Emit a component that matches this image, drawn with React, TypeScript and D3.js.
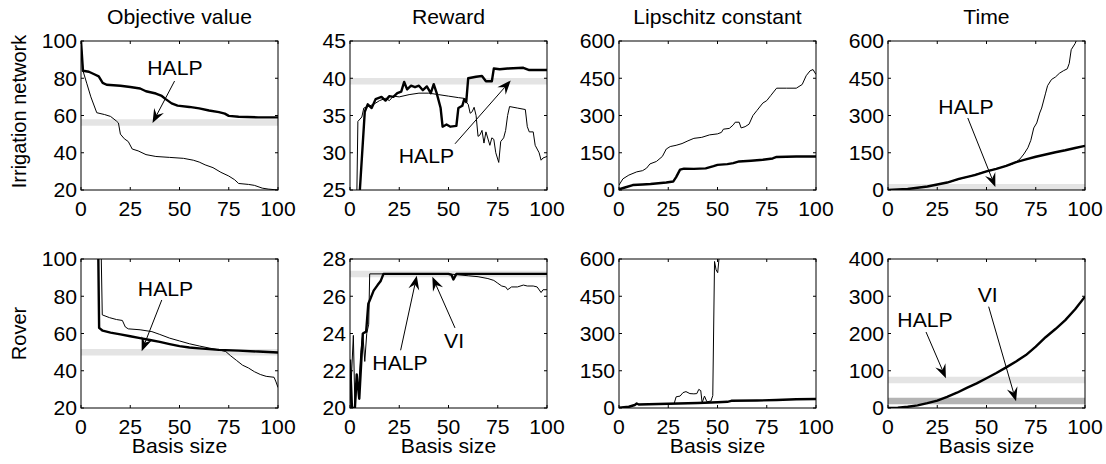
import React from 'react';
import * as d3 from 'd3';

type Pt = [number, number];

// labels
const rowNames = ['Irrigation network', 'Rover'];
const colTitles = ['Objective value', 'Reward', 'Lipschitz constant', 'Time'];
const xTicks = [0, 25, 50, 75, 100];
const xLabel = 'Basis size';

// ---- Irrigation network ----
const irrObjThick: Pt[] = [[0, 100], [1, 84], [4, 83.5], [7, 82], [9, 81], [11, 77.5], [13, 76.5], [20, 76], [25, 75.3], [30, 74.5], [33, 73], [38, 71.8], [41, 70.5], [43, 68.8], [46, 66.5], [49, 65.3], [55, 64.6], [60, 63.8], [65, 62.7], [70, 61.8], [73, 61], [75, 59.8], [80, 59.3], [90, 59], [100, 59]];
const irrObjThin: Pt[] = [[0, 100], [1, 84], [3, 77], [5, 70], [8, 61.5], [12, 60.5], [15, 59.5], [18, 57], [19, 56], [20, 50], [22, 47.5], [24, 46], [26, 42], [29, 41], [33, 39], [38, 38], [45, 37.5], [52, 37], [57, 36], [60, 35], [63, 33.5], [67, 32], [71, 29.5], [75, 27.5], [78, 25.5], [80, 23.5], [85, 23], [88, 22.5], [92, 21], [95, 20.5], [100, 20]];
const irrObjBand = 56.2;

const irrRewThick: Pt[] = [[5, 25], [7.5, 35.5], [9, 36.5], [11, 36], [13, 37.2], [16, 37.5], [18, 37], [20, 37.6], [22, 37.5], [24, 38], [26, 38.2], [27.5, 39.5], [29, 38.5], [31, 39], [33, 38.8], [35, 39], [37, 38.4], [39, 38.9], [41, 38], [42.5, 39.2], [44, 38], [46, 36], [47, 33.5], [49, 33.8], [51, 33.5], [54, 33.6], [55, 36], [57, 36.3], [58, 37.2], [59, 36.8], [60, 40], [64, 40.2], [67, 40.3], [69, 39.6], [72, 39.6], [73, 41.3], [76, 41.2], [80, 41.3], [88, 41.4], [91, 41.1], [100, 41.1]];
const irrRewThin: Pt[] = [[3.5, 25], [4, 34.2], [6, 34.8], [7, 36], [9, 36.2], [12, 36.5], [15, 37], [18, 37.3], [20, 37], [22, 37.6], [25, 37.5], [30, 37.8], [35, 38], [40, 38], [45, 37.8], [50, 37.6], [55, 37.4], [58, 37.3], [59, 36.8], [60, 36.5], [61, 35.3], [62, 35.5], [63, 36.1], [64, 35], [65, 32.2], [66, 32.4], [67, 33], [68, 31.3], [69, 32.8], [71, 31], [72, 32], [73, 31.8], [74, 30], [75.5, 28.7], [76.5, 31.5], [78, 32], [79, 33], [80, 35], [81, 36.2], [85, 36], [89, 35.8], [90, 33.5], [91, 32.8], [93, 32.8], [94, 31], [95, 30.5], [96, 30], [97, 29], [98, 29.3], [100, 29.5]];
const irrRewBand = 39.6;

const irrLipThick: Pt[] = [[0, 3], [3, 10], [7, 20], [12, 22], [16, 24], [20, 27], [24, 30], [27.5, 34], [29, 52], [31, 82], [33, 86], [38, 85], [44, 87], [48, 96], [50, 101], [55, 104], [58, 108], [61, 115], [67, 118], [73, 122], [78, 127], [80, 133], [90, 135], [100, 135]];
const irrLipThin: Pt[] = [[0, 20], [2, 45], [5, 60], [9, 73], [12, 78], [14, 88], [15.7, 105], [19, 115], [22, 135], [24, 165], [26, 175], [29, 180], [32, 187], [35, 198], [38, 208], [42, 212], [46, 222], [50, 226], [52, 232], [53, 245], [56, 248], [58, 262], [59, 273], [61, 273], [62, 250], [64, 255], [66, 265], [68, 300], [70, 320], [73, 350], [75, 360], [77, 380], [80, 410], [85, 410], [90, 410], [93, 425], [95, 460], [97, 480], [98.5, 485], [100, 465]];

const irrTimeThick: Pt[] = [[0, 0], [10, 4], [20, 14], [30, 30], [36, 45], [44, 60], [50, 75], [55, 85], [60, 97], [65, 112], [70, 123], [75, 134], [80, 143], [85, 152], [90, 160], [95, 169], [100, 178]];
const irrTimeThin: Pt[] = [[0, 0], [10, 4], [20, 14], [30, 30], [40, 52], [50, 76], [55, 86], [60, 97], [63, 104], [65, 113], [67, 125], [69, 145], [71, 170], [72.5, 200], [74, 250], [75.5, 270], [77, 310], [78, 330], [80, 390], [81, 420], [83, 445], [85, 455], [87, 470], [89, 480], [91, 488], [92, 510], [93, 565], [95, 590], [96, 610]];
const irrTimeBand = 11;

// ---- Rover ----
const rovObjThick: Pt[] = [[8.8, 100], [9.2, 63], [11, 61.5], [15, 60.5], [20, 59.5], [25, 58.5], [30, 57.5], [35, 56.5], [40, 55.5], [45, 54.3], [50, 53.2], [55, 52.5], [60, 52], [70, 51.2], [80, 50.8], [90, 50.3], [100, 49.8]];
const rovObjThin: Pt[] = [[10.3, 100], [10.8, 70], [14.5, 68.5], [18, 67.5], [21, 67], [22.5, 63.5], [24, 62.5], [30, 62], [36, 61], [40, 59.5], [45, 57.5], [50, 56], [55, 54.5], [60, 53.3], [65, 52.2], [70, 51.2], [73.5, 50.3], [76, 48], [79, 45.5], [82, 43], [85, 41.5], [88, 39.5], [91, 38], [94, 37], [98, 36.5], [99, 34], [100, 31]];
const rovObjBand = 50;

const rovRewThick: Pt[] = [[0, 22.6], [1, 20], [2.5, 20], [3.4, 21.8], [4.7, 20.5], [6.5, 24], [8.2, 24.1], [9.3, 25.6], [10.5, 25.9], [12, 26.3], [14, 26.6], [15.5, 26.8], [17, 27.2], [50, 27.2], [51.5, 27.15], [52.5, 26.9], [54, 27.2], [100, 27.2]];
const rovRewThin: Pt[] = [[0, 20], [1.7, 23.9], [2.5, 20], [3.5, 21.5], [4.5, 21.3], [5.5, 23], [6.5, 24], [7.5, 22.5], [8.5, 24], [9.5, 24.5], [10, 27.2], [50, 27.2], [55, 27.15], [60, 27.1], [65, 27.05], [70, 26.95], [73, 26.85], [75, 26.7], [77, 26.55], [79, 26.5], [80, 26.35], [82, 26.5], [85, 26.5], [88, 26.6], [90, 26.55], [93, 26.55], [95, 26.5], [97, 26.2], [98, 26.35], [100, 26.35]];
const rovRewBand = 27.2;

const rovLipThick: Pt[] = [[0, 1], [5, 5], [8, 12], [9, 18], [10, 14], [20, 16], [30, 18], [40, 20], [50, 23], [55, 25], [57, 29], [70, 30], [80, 32], [90, 35], [100, 36]];
const rovLipThin: Pt[] = [[0, 1], [5, 5], [8, 12], [9, 18], [10, 14], [20, 16], [28, 18], [29, 45], [31, 48], [32.5, 62], [34, 66], [36, 58], [38, 57], [39.5, 58], [40.5, 75], [41.5, 70], [42.2, 21], [43.4, 48], [44.6, 25], [46.7, 28], [47.6, 50], [48.5, 590], [49.3, 556], [50.1, 545], [51, 620]];

const rovTimeThick: Pt[] = [[0, 0], [5, 1], [10, 3.5], [15, 7], [20, 13], [25, 20], [30, 30], [35, 41], [40, 54], [45, 66], [50, 80], [55, 94], [60, 109], [65, 125], [70, 142], [75, 165], [80, 190], [85, 212], [90, 236], [95, 265], [100, 299]];
const rovTimeHalp = 75;
const rovTimeVi = 19;

const LIGHT = '#e4e4e4';
const DARK = '#b4b4b4';

type Note = { text: string; at: Pt; from: Pt; to: Pt };
type Panel = {
  row: number; col: number; yDomain: [number, number]; yTicks: number[];
  thick: Pt[]; thin?: Pt[]; bands: { v: number; color: string }[]; notes: Note[];
};

const panels: Panel[] = [
  { row: 0, col: 0, yDomain: [20, 100], yTicks: [20, 40, 60, 80, 100], thick: irrObjThick, thin: irrObjThin,
    bands: [{ v: irrObjBand, color: LIGHT }],
    notes: [{ text: 'HALP', at: [47.7, 81.7], from: [47.5, 78.5], to: [36.3, 56] }] },
  { row: 0, col: 1, yDomain: [25, 45], yTicks: [25, 30, 35, 40, 45], thick: irrRewThick, thin: irrRewThin,
    bands: [{ v: irrRewBand, color: LIGHT }],
    notes: [{ text: 'HALP', at: [38.8, 28.6], from: [53.3, 31.2], to: [81.6, 39.7] }] },
  { row: 0, col: 2, yDomain: [0, 600], yTicks: [0, 150, 300, 450, 600], thick: irrLipThick, thin: irrLipThin,
    bands: [], notes: [] },
  { row: 0, col: 3, yDomain: [0, 600], yTicks: [0, 150, 300, 450, 600], thick: irrTimeThick, thin: irrTimeThin,
    bands: [{ v: irrTimeBand, color: LIGHT }],
    notes: [{ text: 'HALP', at: [39.6, 306], from: [40.5, 290], to: [54.5, 12] }] },
  { row: 1, col: 0, yDomain: [20, 100], yTicks: [20, 40, 60, 80, 100], thick: rovObjThick, thin: rovObjThin,
    bands: [{ v: rovObjBand, color: LIGHT }],
    notes: [{ text: 'HALP', at: [42.9, 80.1], from: [41, 78], to: [30.8, 50.5] }] },
  { row: 1, col: 1, yDomain: [20, 28], yTicks: [20, 22, 24, 26, 28], thick: rovRewThick, thin: rovRewThin,
    bands: [{ v: rovRewBand, color: LIGHT }],
    notes: [
      { text: 'HALP', at: [25.4, 22.04], from: [25.7, 23.1], to: [33.9, 27.1] },
      { text: 'VI', at: [52.8, 23.2], from: [53.3, 24.3], to: [41.8, 27.05] },
    ] },
  { row: 1, col: 2, yDomain: [0, 600], yTicks: [0, 150, 300, 450, 600], thick: rovLipThick, thin: rovLipThin,
    bands: [], notes: [] },
  { row: 1, col: 3, yDomain: [0, 400], yTicks: [0, 100, 200, 300, 400], thick: rovTimeThick,
    bands: [{ v: rovTimeHalp, color: LIGHT }, { v: rovTimeVi, color: DARK }],
    notes: [
      { text: 'HALP', at: [18.8, 217], from: [19.3, 204], to: [29.4, 80] },
      { text: 'VI', at: [50.6, 285.6], from: [51.1, 272], to: [65, 18] },
    ] },
];

const W = 1106;
const H = 464;
const colLeft = [81, 350, 619, 888];
const rowTop = [41, 259];
const PW = 197;
const PH = 149;
const FONT = 20;
const SX = 1.06; // the source figure is a bit wider than tall

// horizontal text, slightly stretched like the source
function HText({ x, y, anchor, dy, children }: { x: number; y: number; anchor: string; dy?: string; children: React.ReactNode }) {
  return (
    <text transform={`translate(${x},${y}) scale(${SX},1)`} dy={dy} textAnchor={anchor}>
      {children}
    </text>
  );
}

function Arrow({ p0, p1 }: { p0: Pt; p1: Pt }) {
  const dx = p1[0] - p0[0];
  const dy = p1[1] - p0[1];
  const len = Math.hypot(dx, dy);
  const ux = dx / len, uy = dy / len;
  const nx = -uy, ny = ux;
  const L = 14, w = 5.5, notch = 9;
  const bl: Pt = [p1[0] - ux * L + nx * w, p1[1] - uy * L + ny * w];
  const br: Pt = [p1[0] - ux * L - nx * w, p1[1] - uy * L - ny * w];
  const nb: Pt = [p1[0] - ux * notch, p1[1] - uy * notch];
  return (
    <g>
      <line x1={p0[0]} y1={p0[1]} x2={nb[0]} y2={nb[1]} stroke="#000" strokeWidth={1} />
      <path d={`M${p1[0]},${p1[1]}L${bl[0]},${bl[1]}L${nb[0]},${nb[1]}L${br[0]},${br[1]}Z`} fill="#000" />
    </g>
  );
}

function PanelView({ p }: { p: Panel }) {
  const x = d3.scaleLinear().domain([0, 100]).range([0, PW]);
  const y = d3.scaleLinear().domain(p.yDomain).range([PH, 0]);
  const line = d3.line<Pt>().x((d) => x(d[0])).y((d) => y(d[1]));
  const id = `clip-${p.row}-${p.col}`;
  const tl = 3;
  return (
    <g transform={`translate(${colLeft[p.col]},${rowTop[p.row]})`}>
      <defs>
        <clipPath id={id}>
          <rect x={0} y={0} width={PW} height={PH} />
        </clipPath>
      </defs>
      <g clipPath={`url(#${id})`}>
        {p.bands.map((b, i) => (
          <line key={i} x1={x(0)} x2={x(100)} y1={y(b.v)} y2={y(b.v)} stroke={b.color} strokeWidth={6.5} />
        ))}
        {p.thin && <path d={line(p.thin) || ''} fill="none" stroke="#000" strokeWidth={1} strokeLinejoin="round" />}
        <path d={line(p.thick) || ''} fill="none" stroke="#000" strokeWidth={2.4} strokeLinejoin="round" />
      </g>
      <rect x={0} y={0} width={PW} height={PH} fill="none" stroke="#000" strokeWidth={1} />
      {/* ticks on all four sides, pointing in */}
      {xTicks.map((t) => (
        <g key={`xt${t}`}>
          <line x1={x(t)} x2={x(t)} y1={PH} y2={PH - tl} stroke="#000" />
          <line x1={x(t)} x2={x(t)} y1={0} y2={tl} stroke="#000" />
          <HText x={x(t)} y={PH + 26} anchor="middle">{t}</HText>
        </g>
      ))}
      {p.yTicks.map((t) => (
        <g key={`yt${t}`}>
          <line x1={0} x2={tl} y1={y(t)} y2={y(t)} stroke="#000" />
          <line x1={PW} x2={PW - tl} y1={y(t)} y2={y(t)} stroke="#000" />
          <HText x={-4} y={y(t)} dy="0.37em" anchor="end">{t}</HText>
        </g>
      ))}
      {p.notes.map((n, i) => (
        <g key={`n${i}`}>
          <HText x={x(n.at[0])} y={y(n.at[1])} anchor="middle">{n.text}</HText>
          <Arrow p0={[x(n.from[0]), y(n.from[1])]} p1={[x(n.to[0]), y(n.to[1])]} />
        </g>
      ))}
      {p.row === 0 && (
        <HText x={PW / 2} y={-17} anchor="middle">{colTitles[p.col]}</HText>
      )}
      {p.row === 1 && (
        <HText x={PW / 2} y={PH + 44.5} anchor="middle">{xLabel}</HText>
      )}
      {p.col === 0 && (
        <text transform={`translate(${26 - colLeft[0]},${PH / 2 - (p.row === 0 ? 4 : 0)}) rotate(-90)`} textAnchor="middle">
          {rowNames[p.row]}
        </text>
      )}
    </g>
  );
}

export default function App() {
  return (
    <svg
      width={W}
      height={H}
      style={{ position: 'absolute', left: 0, top: 0, background: '#fff' }}
      fontFamily="'Liberation Sans', Arial, Helvetica, sans-serif"
      fontSize={FONT}
      fill="#000"
    >
      <rect x={0} y={0} width={W} height={H} fill="#fff" />
      {panels.map((p) => (
        <PanelView key={`${p.row}-${p.col}`} p={p} />
      ))}
    </svg>
  );
}
